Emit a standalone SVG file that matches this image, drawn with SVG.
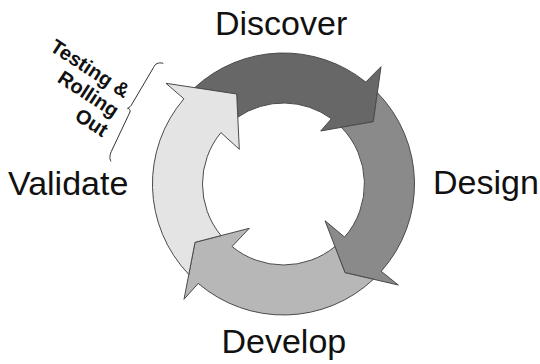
<svg xmlns="http://www.w3.org/2000/svg" width="540" height="364" viewBox="0 0 540 364">
  <style>
    .arrow { stroke: #4a4a4a; stroke-width: 1; stroke-linejoin: miter; }
    .label { font-family: "Liberation Sans", Arial, sans-serif; font-size: 34px; fill: #111111; }
    .note { font-family: "Liberation Sans", Arial, sans-serif; font-size: 20px; font-weight: bold; fill: #111111; text-anchor: end; }
    .brace { fill: none; stroke: #333333; stroke-width: 1; }
  </style>
  <rect width="540" height="364" fill="#ffffff"/>
  <g id="connectors">
    <path id="arrow-discover" class="arrow" fill="#676767" d="M194.7,87.65 A131,131 0 0 1 365.8,82.1 L381,66.7 L373.3,121.7 L320.7,131 L331.4,118.7 A81,81 0 0 0 237.79,117.13 L236.7,94 Z"/>
    <path id="arrow-design" class="arrow" fill="#8a8a8a" d="M377.37,92.63 A131,131 0 0 1 381.2,271.3 L398.3,285 L345,272.7 L325,220.7 L344.6,237.1 A81,81 0 0 0 341.39,127.34 L373.3,121.7 Z"/>
    <path id="arrow-develop" class="arrow" fill="#b7b7b7" d="M373.43,279.26 A131,131 0 0 1 198.2,283.4 L184,299.3 L195,242.3 L249.3,228.3 L232,246.5 A81,81 0 0 0 334.95,246.56 L345,272.7 Z"/>
    <path id="arrow-validate" class="arrow" fill="#e4e4e4" d="M188.8,274.5 A131,131 0 0 1 183.9,98.8 L166,83.3 L236.7,94 L239.3,149.3 L220.9,132.6 A81,81 0 0 0 221.0,235.6 L195,242.3 Z"/>
  </g>
  <g id="node-discover"><text class="label" x="215" y="35">Discover</text></g>
  <g id="node-design"><text class="label" x="433" y="194">Design</text></g>
  <g id="node-develop"><text class="label" x="221.5" y="353">Develop</text></g>
  <g id="node-validate"><text class="label" x="8" y="195">Validate</text></g>
  <g id="note-testing">
    <path class="brace" d="M163.3,63.3 C158,62 155,64 153.5,67.5 L132,104 C131,106 129.5,107.5 127.5,108.3 C129.5,108.5 130.5,110 130,112 L112,150 C110,154 109,158 111,161.5"/>
    <g transform="translate(124,98.7) rotate(33)">
      <text class="note" x="0" y="0">Testing &amp;</text>
      <text class="note" x="1.5" y="22.2">Rolling</text>
      <text class="note" x="3" y="44.5">Out</text>
    </g>
  </g>
</svg>
